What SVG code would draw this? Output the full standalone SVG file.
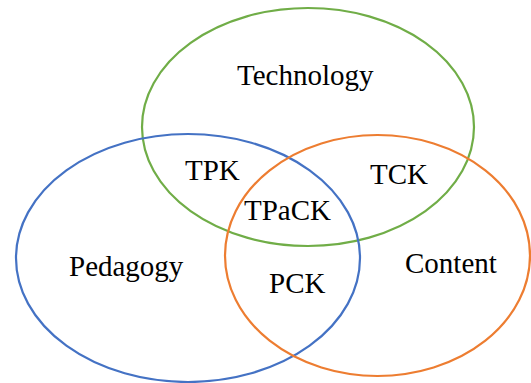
<svg xmlns="http://www.w3.org/2000/svg" width="531" height="383" viewBox="0 0 531 383">
<style>
.c{fill:none;stroke-width:2.2}
.t{font-family:'Liberation Serif','Times New Roman',serif;font-size:29px;fill:#000}
</style>
<rect width="531" height="383" fill="#fff"/>
<g id="technology">
<ellipse class="c" cx="308" cy="127" rx="166" ry="119" stroke="#70AD47"/>
<text class="t" x="237" y="85">Technology</text>
</g>
<g id="pedagogy">
<ellipse class="c" cx="188" cy="258" rx="172" ry="124" stroke="#4472C4"/>
<text class="t" x="69" y="276">Pedagogy</text>
</g>
<g id="content">
<ellipse class="c" cx="377.5" cy="255.5" rx="152.5" ry="120.5" stroke="#ED7D31"/>
<text class="t" x="405" y="273">Content</text>
</g>
<g id="tpk"><text class="t" x="185" y="180">TPK</text></g>
<g id="tck"><text class="t" x="370" y="184">TCK</text></g>
<g id="tpack"><text class="t" x="244" y="220">TPaCK</text></g>
<g id="pck"><text class="t" x="269" y="293">PCK</text></g>
<g id="connectors"></g>
</svg>
